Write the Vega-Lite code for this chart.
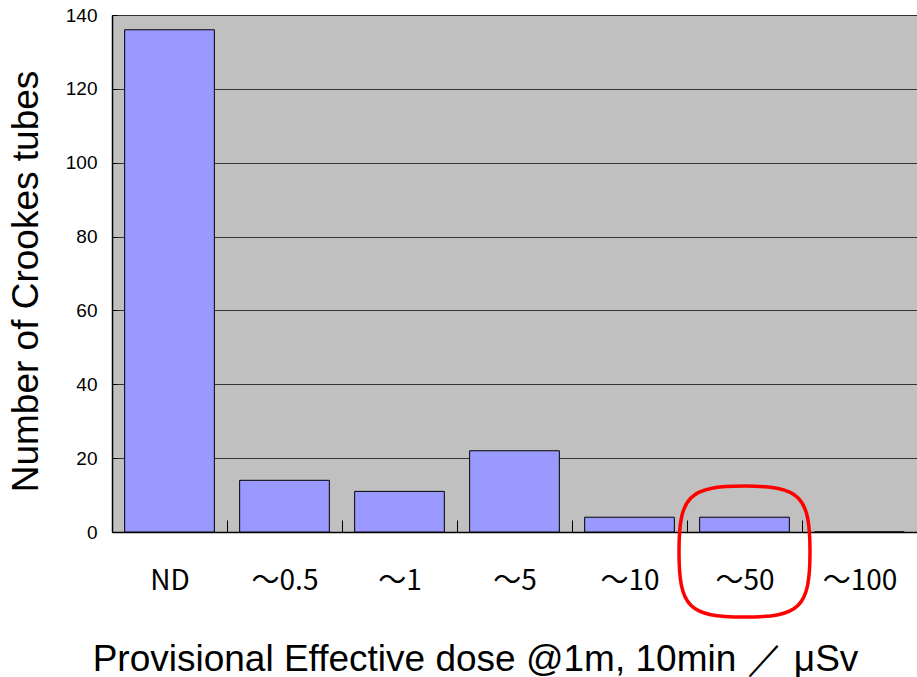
{
  "$schema": "https://vega.github.io/schema/vega-lite/v6.json",
  "width": 805,
  "height": 517,
  "autosize": {"type": "none"},
  "padding": {"left": 112, "top": 15, "right": 0, "bottom": 145},
  "background": "white",
  "config": {
    "view": {"fill": "#c0c0c0", "stroke": null},
    "font": "Liberation Sans",
    "axisX": {
      "labelAngle": 0,
      "labelFont": "Noto Sans CJK JP",
      "labelFontSize": 28,
      "labelColor": "black",
      "labelPadding": 47,
      "ticks": true,
      "tickBand": "extent",
      "tickSize": -12,
      "tickColor": "black",
      "tickWidth": 1,
      "domainColor": "black",
      "domainWidth": 1.5,
      "titleFontSize": 37,
      "titleFontWeight": "normal",
      "titleColor": "black",
      "titlePadding": 46,
      "titleX": 363,
      "grid": false
    },
    "axisY": {
      "grid": true,
      "gridColor": "#333333",
      "gridOpacity": 1,
      "gridWidth": 1,
      "ticks": true,
      "tickSize": -5,
      "tickColor": "black",
      "domainColor": "black",
      "domainWidth": 1.5,
      "labelFontSize": 19,
      "labelColor": "black",
      "labelPadding": 20,
      "titleFontSize": 37,
      "titleFontWeight": "normal",
      "titleColor": "black",
      "titlePadding": 20,
      "titleY": 266
    }
  },
  "data": {
    "values": [
      {"dose": "ND", "count": 136},
      {"dose": "～0.5", "count": 14},
      {"dose": "～1", "count": 11},
      {"dose": "～5", "count": 22},
      {"dose": "～10", "count": 4},
      {"dose": "～50", "count": 4, "circle": -5.3},
      {"dose": "～100", "count": 0}
    ]
  },
  "encoding": {
    "x": {
      "field": "dose",
      "type": "nominal",
      "sort": null,
      "scale": {"paddingInner": 0, "paddingOuter": 0},
      "axis": {"title": "Provisional Effective dose @1m, 10min ／ μSv"}
    }
  },
  "layer": [
    {
      "mark": {"type": "bar", "fill": "#9999ff", "stroke": "black", "strokeWidth": 1, "width": {"band": 0.78}},
      "encoding": {
        "y": {
          "field": "count",
          "type": "quantitative",
          "scale": {"domain": [0, 140]},
          "axis": {"values": [0, 20, 40, 60, 80, 100, 120, 140], "title": "Number of Crookes tubes"}
        }
      }
    },
    {
      "mark": {
        "type": "point",
        "shape": "M 0,-1 C 0.85,-1 1,-0.85 1,0 C 1,0.85 0.85,1 0,1 C -0.85,1 -1,0.85 -1,0 C -1,-0.85 -0.85,-1 0,-1 Z",
        "size": 17161,
        "stroke": "red",
        "strokeWidth": 3.5,
        "filled": false,
        "opacity": 1,
        "clip": false
      },
      "encoding": {
        "y": {
          "field": "circle",
          "type": "quantitative",
          "scale": {"domain": [0, 140]},
          "axis": {"values": [0, 20, 40, 60, 80, 100, 120, 140], "title": "Number of Crookes tubes"}
        }
      }
    }
  ]
}
